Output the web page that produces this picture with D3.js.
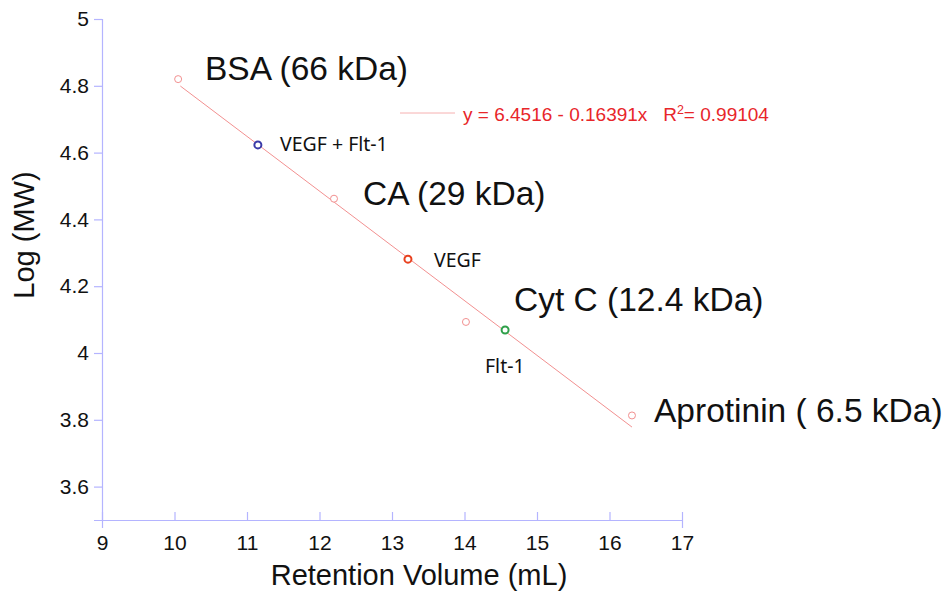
<!DOCTYPE html>
<html>
<head>
<meta charset="utf-8">
<script src="https://cdn.jsdelivr.net/npm/d3@7"></script>
<style>
  html, body { margin: 0; padding: 0; background: #fff; }
  svg { display: block; }
  .tick text { font-family: Arial, "Liberation Sans", sans-serif; font-size: 21px; fill: #111; }
</style>
</head>
<body>
<svg id="chart" width="949" height="596"></svg>
<script>
// Calibration standards: retention volume (mL) vs log molecular weight
const standardNames = ["BSA (66 kDa)", "CA (29 kDa)", "Cyt C (12.4 kDa)", "Aprotinin ( 6.5 kDa)"];
const standardVolumes = [10.05, 12.2, 14.02, 16.31];
const standardLogMW = [4.82, 4.462, 4.093, 3.813];

// Samples placed on the calibration curve
const sampleNames = ["VEGF + Flt-1", "VEGF", "Flt-1"];
const sampleVolumes = [11.15, 13.22, 14.56];
const sampleLogMW = [4.623, 4.281, 4.069];
const sampleColors = ["#3a3aa8", "#e8401e", "#2fa04a"];

// Linear fit: y = intercept + slope * x
const fitIntercept = 6.4516;
const fitSlope = -0.16391;
const fitR2 = 0.99104;
const fitRange = [10.08, 16.31];

const xTicks = [9, 10, 11, 12, 13, 14, 15, 16, 17];
const yTicks = [3.6, 3.8, 4, 4.2, 4.4, 4.6, 4.8, 5];

const svg = d3.select("#chart");
const axisColor = "#b4b4ff";

const x = d3.scaleLinear().domain([9, 17]).range([102, 682]);
const y = d3.scaleLinear().domain([3.5, 5]).range([520, 19]);

// Axes
const xAxis = svg.append("g")
  .attr("transform", `translate(0,${y(3.5)})`)
  .call(d3.axisBottom(x).tickValues(xTicks).tickSize(8).tickPadding(4).tickFormat(d3.format("d")));
const yAxis = svg.append("g")
  .attr("transform", `translate(${x(9)},0)`)
  .call(d3.axisLeft(y).tickValues(yTicks).tickSize(8).tickPadding(5).tickFormat(d => d3.format("")(+d.toFixed(1))));

[xAxis, yAxis].forEach(g => {
  g.select(".domain").attr("stroke", axisColor).attr("stroke-width", 1.2);
  g.selectAll(".tick line").attr("stroke", axisColor).attr("stroke-width", 1.2);
});
// x ticks point up into the plot, y ticks point outward
xAxis.selectAll(".tick line").attr("y2", -8);
xAxis.selectAll(".tick text").attr("y", 15);
yAxis.selectAll(".tick text").attr("font-size", 22);

// Axis titles
const titleFont = "Arial, 'Liberation Sans', sans-serif";
svg.append("text")
  .attr("x", 419).attr("y", 585)
  .attr("text-anchor", "middle")
  .attr("font-family", titleFont)
  .attr("font-size", 29).attr("fill", "#111")
  .text("Retention Volume (mL)");
svg.append("text")
  .attr("transform", "translate(34,235) rotate(-90)")
  .attr("text-anchor", "middle")
  .attr("font-family", titleFont)
  .attr("font-size", 29).attr("fill", "#111")
  .text("Log (MW)");

// Fit line
const fitColor = "#f29090";
svg.append("line")
  .attr("x1", x(fitRange[0])).attr("y1", y(fitIntercept + fitSlope * fitRange[0]))
  .attr("x2", x(fitRange[1])).attr("y2", y(fitIntercept + fitSlope * fitRange[1]))
  .attr("stroke", fitColor).attr("stroke-width", 1);

// Fit legend
svg.append("line")
  .attr("x1", 400).attr("x2", 455).attr("y1", 113).attr("y2", 113)
  .attr("stroke", "#f6b0b0").attr("stroke-width", 1);
const eq = svg.append("text")
  .attr("x", 463).attr("y", 121)
  .attr("font-family", titleFont)
  .attr("font-size", 19).attr("fill", "#e8262a")
  .attr("xml:space", "preserve");
eq.append("tspan").text(`y = ${fitIntercept} - ${Math.abs(fitSlope)}x   R`);
eq.append("tspan").attr("font-size", 12.5).attr("dy", -7).text("2");
eq.append("tspan").attr("dy", 7).text(`= ${fitR2}`);

// Standard points
svg.append("g").selectAll("circle")
  .data(standardVolumes)
  .join("circle")
  .attr("cx", (d) => x(d))
  .attr("cy", (d, i) => y(standardLogMW[i]))
  .attr("r", 3.5)
  .attr("fill", "#fff")
  .attr("stroke", fitColor).attr("stroke-width", 1);

// Sample points
svg.append("g").selectAll("circle")
  .data(sampleVolumes)
  .join("circle")
  .attr("cx", (d) => x(d))
  .attr("cy", (d, i) => y(sampleLogMW[i]))
  .attr("r", 3.5)
  .attr("fill", "#fff")
  .attr("stroke", (d, i) => sampleColors[i]).attr("stroke-width", 2);

// Standard labels
const standardLabelPos = [[205, 80], [363, 205], [514, 311], [654, 422]];
svg.append("g").selectAll("text")
  .data(standardNames)
  .join("text")
  .attr("x", (d, i) => standardLabelPos[i][0])
  .attr("y", (d, i) => standardLabelPos[i][1])
  .attr("font-family", titleFont)
  .attr("font-size", 33.5).attr("fill", "#111")
  .text(d => d);

// Sample labels
const sampleLabelPos = [[280, 151], [434, 267], [485, 373]];
svg.append("g").selectAll("text")
  .data(sampleNames)
  .join("text")
  .attr("x", (d, i) => sampleLabelPos[i][0])
  .attr("y", (d, i) => sampleLabelPos[i][1])
  .attr("font-family", "'Noto Sans', 'Open Sans', sans-serif")
  .attr("font-size", 19.5).attr("fill", "#111")
  .text(d => d);
</script>
</body>
</html>
